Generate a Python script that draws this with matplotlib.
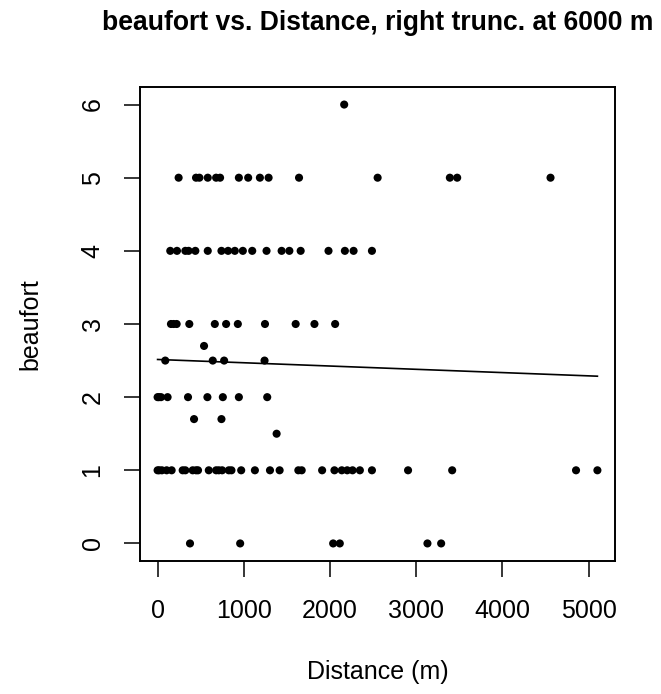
import numpy as np
import matplotlib
matplotlib.use("Agg")
import matplotlib.pyplot as plt

plt.rcParams['font.family'] = ['Liberation Sans', 'DejaVu Sans']

# ---- data ----
dist_b6 = [2165]
dist_b5 = [244, 446, 485, 582, 679, 725, 943, 1051, 1187, 1288, 1641, 2553, 3391, 3476, 4559]
dist_b4 = [147, 225, 322, 360, 438, 582, 741, 818, 896, 989, 1098, 1264, 1439, 1529, 1660,
           1983, 2173, 2274, 2487]
dist_b3 = [155, 186, 221, 368, 664, 795, 931, 1246, 1602, 1820, 2060]
dist_b27 = [539]
dist_b25 = [89, 640, 772, 1241]
dist_b2 = [0, 15, 40, 116, 353, 578, 757, 943, 1272]
dist_b17 = [423, 741]
dist_b15 = [1381]
dist_b1 = [0, 19, 50, 105, 163, 291, 322, 407, 446, 469, 594, 679, 710, 749, 826, 857, 970,
           1129, 1304, 1416, 1633, 1672, 1909, 2052, 2137, 2200, 2262, 2347, 2487, 2906,
           3418, 4855, 5103]
dist_b0 = [376, 958, 2037, 2114, 3131, 3290]

beaufort_levels = [6, 5, 4, 3, 2.7, 2.5, 2, 1.7, 1.5, 1, 0]
groups = [dist_b6, dist_b5, dist_b4, dist_b3, dist_b27, dist_b25, dist_b2, dist_b17,
          dist_b15, dist_b1, dist_b0]

distance = np.concatenate([np.array(g, float) for g in groups])
beaufort = np.concatenate([np.full(len(g), lv, float) for g, lv in zip(groups, beaufort_levels)])

fit_intercept = 2.515
fit_slope = -4.48e-5

x_ticks = [0, 1000, 2000, 3000, 4000, 5000]
y_ticks = [0, 1, 2, 3, 4, 5, 6]

title = "beaufort vs. Distance, right trunc. at 6000 m"
xlabel = "Distance (m)"
ylabel = "beaufort"

# ---- figure ----
W, H = 661, 694
fig = plt.figure(figsize=(W / 100, H / 100), dpi=100)
L, R, T, B = 140, 615, 87, 561
ax = fig.add_axes([L / W, 1 - B / H, (R - L) / W, (B - T) / H])

ax.scatter(distance, beaufort, s=34, color='black', edgecolors='none', zorder=3)
fx = np.array([distance.min(), distance.max()])
ax.plot(fx, fit_intercept + fit_slope * fx, color='black', lw=1.2, zorder=2)

xr = distance.max() - distance.min()
ax.set_xlim(distance.min() - 0.04 * xr, distance.max() + 0.04 * xr)
ax.set_ylim(-0.24, 6.24)

ax.set_xticks(x_ticks)
ax.set_xticklabels([str(t) for t in x_ticks])
ax.set_yticks(y_ticks)
ax.set_yticklabels([str(t) for t in y_ticks], rotation=90, va='center')

ax.tick_params(axis='both', direction='out', length=11.5, width=1.1, labelsize=18,
               color='black')
ax.tick_params(axis='x', pad=16)
ax.tick_params(axis='y', pad=14)

for s in ax.spines.values():
    s.set_linewidth(1.4)
    s.set_color('black')

ax.set_xlabel(xlabel, fontsize=18)
ax.set_ylabel(ylabel, fontsize=18)
ax.xaxis.set_label_coords(0.5, (B - 672) / (B - T))
ax.xaxis.label.set_va('center')
ax.yaxis.set_label_coords((30 - L) / (R - L), 0.5)
ax.yaxis.label.set_va('center')

fig.text((L + R) / 2 / W, 1 - 23 / H, title, ha='center', va='center',
         fontsize=19.1, fontweight='bold')

fig.savefig("out.png", dpi=100)
